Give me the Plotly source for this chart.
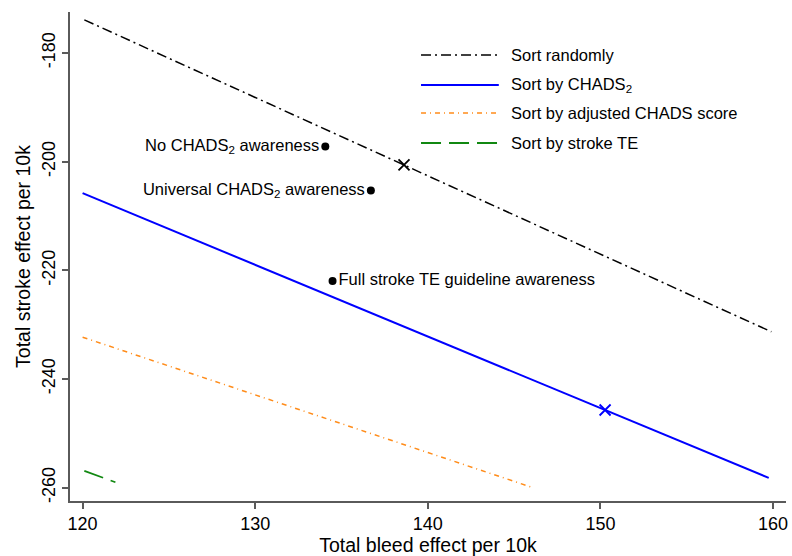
import plotly.graph_objects as go

# Data
rand_x = [120.1, 159.9]
rand_y = [-173.9, -231.3]
chads_x = [120.0, 159.75]
chads_y = [-205.8, -258.2]
adj_x = [120.0, 146.0]
adj_y = [-232.3, -259.9]
te_x = [120.1, 121.9]
te_y = [-256.9, -259.0]

rand_mark = (138.62, -200.6)
chads_mark = (150.27, -245.7)

pt_x = [134.06, 136.7, 134.48]
pt_y = [-197.2, -205.3, -221.96]
pt_labels = ["No CHADS<sub>2</sub> awareness",
             "Universal CHADS<sub>2</sub> awareness",
             "Full stroke TE guideline awareness"]
pt_pos = ["middle left", "middle left", "middle right"]

legend_names = ["Sort randomly", "Sort by CHADS<sub>2</sub>",
                "Sort by adjusted CHADS score", "Sort by stroke TE"]
colors = ["black", "#0000ff", "#ff8c1a", "#118811"]
dashes = ["10px,4px,2px,4px", "solid", "5px,4px,1px,4px", "20px,8px"]
widths = [1.5, 2, 1.5, 1.8]

x_ticks = [120, 130, 140, 150, 160]
y_ticks = [-260, -240, -220, -200, -180]

FONT = "Liberation Sans, Arial, sans-serif"

fig = go.Figure()
series = [(rand_x, rand_y), (chads_x, chads_y), (adj_x, adj_y), (te_x, te_y)]
for (xs, ys), c, d, w, n in zip(series, colors, dashes, widths, legend_names):
    fig.add_trace(go.Scatter(x=xs, y=ys, mode="lines", name=n,
                             line=dict(color=c, dash=d, width=w), showlegend=False))

fig.add_trace(go.Scatter(x=[rand_mark[0]], y=[rand_mark[1]], mode="markers",
                         marker=dict(symbol="x-thin", size=11, line=dict(color="black", width=1.8)),
                         showlegend=False))
fig.add_trace(go.Scatter(x=[chads_mark[0]], y=[chads_mark[1]], mode="markers",
                         marker=dict(symbol="x-thin", size=11, line=dict(color="#0000ff", width=1.8)),
                         showlegend=False))

for px_, py_, lab, pos in zip(pt_x, pt_y, pt_labels, pt_pos):
    fig.add_trace(go.Scatter(x=[px_], y=[py_], mode="markers+text", text=[lab],
                             textposition=pos,
                             textfont=dict(family=FONT, size=16.5, color="black"),
                             marker=dict(color="black", size=8), showlegend=False))

# Manual legend (to match long line samples)
plot_top, plot_bot = 12, 501
plot_left, plot_right = 70, 788
leg_y_px = [55, 85, 113, 143]
for ypx, c, d, w, n in zip(leg_y_px, colors, dashes, widths, legend_names):
    yp = (plot_bot - ypx) / (plot_bot - plot_top)
    x0 = (422 - plot_left) / (plot_right - plot_left)
    x1 = (500 - plot_left) / (plot_right - plot_left)
    xt = (510 - plot_left) / (plot_right - plot_left)
    fig.add_shape(type="line", xref="paper", yref="paper", x0=x0, x1=x1, y0=yp, y1=yp,
                  line=dict(color=c, dash=d, width=w))
    fig.add_annotation(xref="paper", yref="paper", x=xt, y=yp, text=n, showarrow=False,
                       xanchor="left", yanchor="middle",
                       font=dict(family=FONT, size=16.5, color="black"))

axis_common = dict(showgrid=False, zeroline=False, showline=True, linecolor="#5a5a5a",
                   linewidth=1.5, ticks="outside", tickcolor="#5a5a5a", tickwidth=1.5,
                   ticklen=6, tickfont=dict(family=FONT, size=18, color="black"),
                   mirror=False)

fig.update_xaxes(range=[119.27, 160.75], tickvals=x_ticks, ticktext=[str(v) for v in x_ticks],
                 title=dict(text="Total bleed effect per 10k", standoff=2,
                            font=dict(family=FONT, size=19.5, color="black")),
                 **axis_common)
fig.update_yaxes(range=[-262.45, -172.45], tickvals=y_ticks, ticktext=[str(v) for v in y_ticks],
                 tickangle=-90,
                 title=dict(text="Total stroke effect per 10k", standoff=3,
                            font=dict(family=FONT, size=19.5, color="black")),
                 **axis_common)

fig.update_layout(width=792, height=556, plot_bgcolor="white", paper_bgcolor="white",
                  margin=dict(l=70, r=4, t=12, b=55), showlegend=False,
                  font=dict(family=FONT))

fig.write_html("out.html")
